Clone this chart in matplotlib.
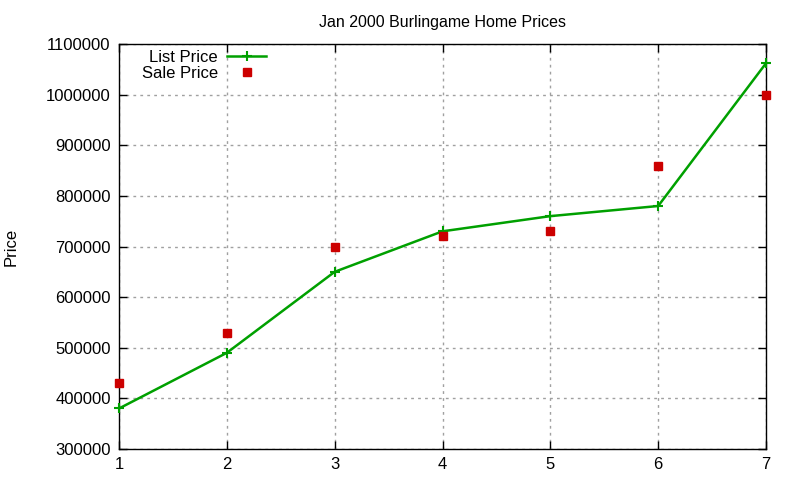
import matplotlib.pyplot as plt

# Jan 2000 Burlingame home prices
houses = [1, 2, 3, 4, 5, 6, 7]
list_price = [380000, 490000, 650000, 730000, 760000, 780000, 1062000]
sale_price = [430000, 530000, 700000, 720000, 730000, 860000, 1000000]
y_ticks = [300000, 400000, 500000, 600000, 700000, 800000, 900000, 1000000, 1100000]

plt.rcParams['font.family'] = ['Liberation Sans', 'DejaVu Sans']
plt.rcParams['font.size'] = 12

fig = plt.figure(figsize=(8, 4.8), dpi=100)
ax = fig.add_axes([0.14875, 0.0646, 0.80875, 0.8437])

ax.plot(houses, list_price, color='#00a000', lw=1.8, marker='+', ms=7, mew=1.5,
        label='List Price', clip_on=False, zorder=3)
ax.plot(houses, sale_price, ls='none', color='#cc0000', marker='s', ms=6,
        label='Sale Price', clip_on=False, zorder=4)

ax.set_xlim(1, 7)
ax.set_ylim(300000, 1100000)
ax.set_xticks(houses)
ax.set_yticks(y_ticks)
ax.set_yticklabels([str(v) for v in y_ticks])
ax.tick_params(direction='in', top=True, right=True, length=6, width=1, pad=6)
ax.grid(True, color='#a0a0a0', ls=(0, (2, 3)), lw=1)
for s in ax.spines.values():
    s.set_linewidth(1)

ax.set_title('Jan 2000 Burlingame Home Prices', pad=12, fontsize=11.5)
ax.set_ylabel('Price', labelpad=20)

ax.legend(loc='upper left', bbox_to_anchor=(0.02, 1.01), frameon=False,
          markerfirst=False, handlelength=2.35, handletextpad=0.55,
          labelspacing=0.05, borderaxespad=0.2, alignment='right')

fig.savefig('out.png')
